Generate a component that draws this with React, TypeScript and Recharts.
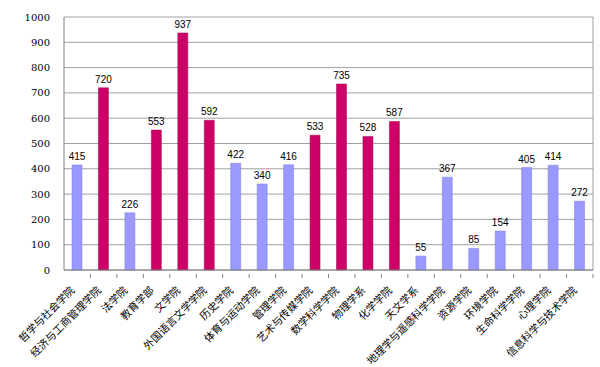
import { BarChart, Bar, XAxis, YAxis, CartesianGrid, LabelList, Cell } from 'recharts'

const schools = [
  '哲学与社会学院',
  '经济与工商管理学院',
  '法学院',
  '教育学部',
  '文学院',
  '外国语言文学学院',
  '历史学院',
  '体育与运动学院',
  '管理学院',
  '艺术与传媒学院',
  '数学科学学院',
  '物理学系',
  '化学学院',
  '天文学系',
  '地理学与遥感科学学院',
  '资源学院',
  '环境学院',
  '生命科学学院',
  '心理学院',
  '信息科学与技术学院',
]

const counts = [415, 720, 226, 553, 937, 592, 422, 340, 416, 533, 735, 528, 587, 55, 367, 85, 154, 405, 414, 272]

// true = highlighted (magenta) bars
const highlighted = [false, true, false, true, true, true, false, false, false, true, true, true, true, false, false, false, false, false, false, false]

const yTicks = [0, 100, 200, 300, 400, 500, 600, 700, 800, 900, 1000]

const BLUE = '#9999ff'
const MAGENTA = '#cc0066'

const W = 600
const H = 367
const LEFT = 64
const RIGHT = 7
const band = (W - LEFT - RIGHT) / schools.length

function SchoolTick({ x, y, payload }: any) {
  return (
    <g>
      <line x1={x + band / 2} y1={y - 4} x2={x + band / 2} y2={y} stroke="#808080" />
      <text
        x={0}
        y={0}
        transform={`translate(${x - 2},${y + 13}) rotate(-45)`}
        textAnchor="end"
        fontSize={10.5}
        fill="#000"
        fontFamily="'Noto Sans CJK SC', sans-serif"
      >
        {payload.value}
      </text>
    </g>
  )
}

export default function App() {
  const data = schools.map((name, i) => ({ name, count: counts[i], hi: highlighted[i] }))

  return (
    <div style={{ position: 'absolute', left: 0, top: 0, background: '#fff' }}>
      <BarChart width={W} height={H} data={data} margin={{ top: 17, right: RIGHT, bottom: 0, left: 0 }} barSize={10}>
        <CartesianGrid
          stroke="#a0a0a0"
          verticalCoordinatesGenerator={({ offset }: any) => [offset.left + offset.width]}
        />
        <XAxis
          dataKey="name"
          interval={0}
          height={97}
          stroke="#808080"
          tickLine={false}
          tick={<SchoolTick />}
        />
        <YAxis
          domain={[0, 1000]}
          ticks={yTicks}
          width={LEFT}
          stroke="#808080"
          tickLine={false}
          tickMargin={8}
          tick={{ fontSize: 10, fill: '#000', fontFamily: "'DejaVu Serif', serif" }}
        />
        <Bar dataKey="count" isAnimationActive={false}>
          {data.map((d, i) => (
            <Cell key={i} fill={d.hi ? MAGENTA : BLUE} stroke={d.hi ? '#a0004f' : '#7a7ae0'} strokeWidth={0.5} />
          ))}
          <LabelList
            dataKey="count"
            position="top"
            offset={5}
            style={{ fontSize: 10, fill: '#000', fontFamily: "'Liberation Sans', Arial, sans-serif" }}
          />
        </Bar>
      </BarChart>
    </div>
  )
}
